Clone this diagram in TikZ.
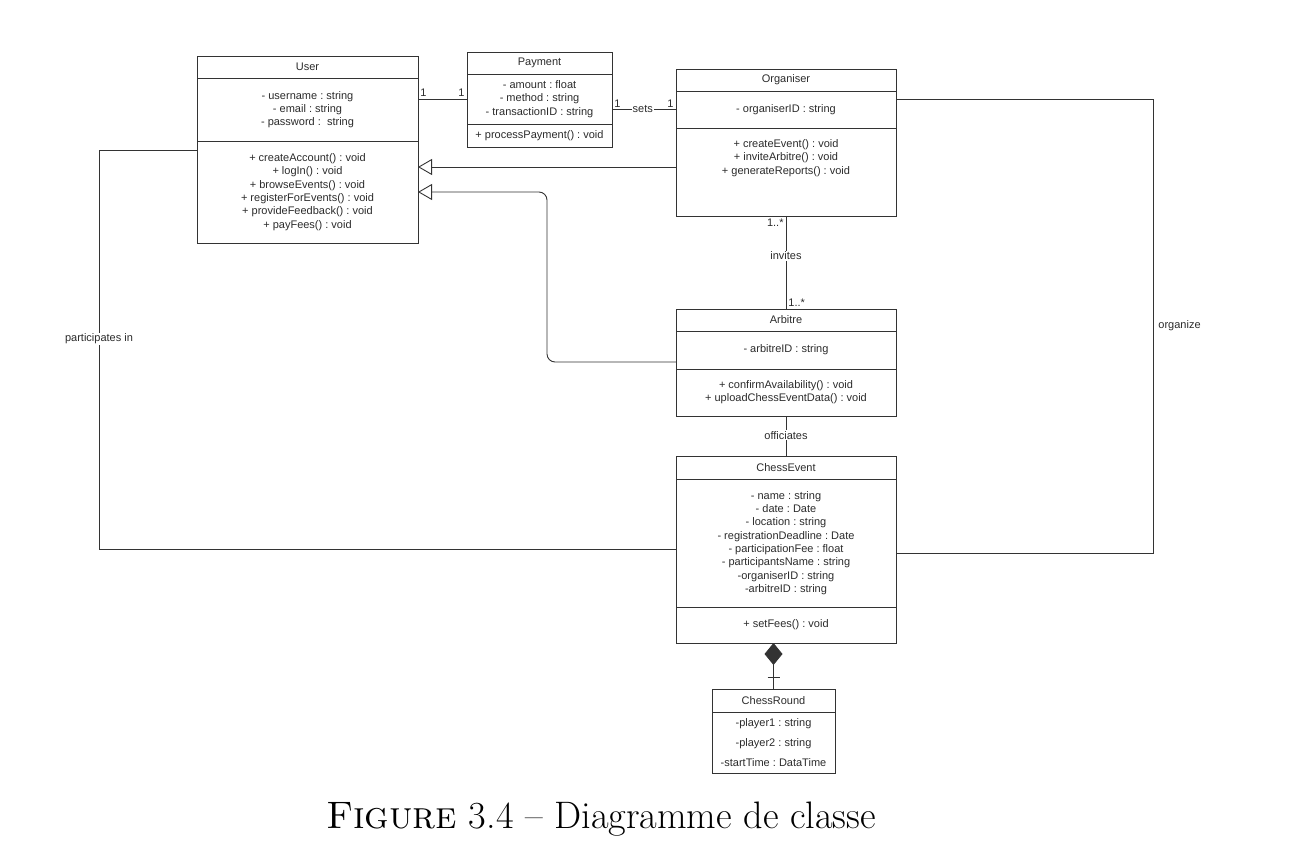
\documentclass[tikz,border=0pt]{standalone}
\usepackage{fontspec}
\usetikzlibrary{positioning,arrows.meta}
\newfontfamily\umlfont{Liberation Sans}
\definecolor{umlline}{HTML}{333333}
\definecolor{umlink}{HTML}{2B2B2B}
\frenchspacing

\tikzset{
  cpart/.style 2 args={draw=umlline, line width=0.9pt, text=umlink,
    font=\umlfont\fontsize{11}{13.3}\selectfont, align=center,
    inner sep=0pt, outer sep=0pt, minimum width=#1, minimum height=#2},
  assoc/.style={draw=umlline, line width=0.9pt},
  inherit/.style={assoc, -{Triangle[open, length=14pt, width=16pt, fill=white]}},
  compose/.style={assoc, -{Diamond[length=22pt, width=18pt]}},
  lbl/.style={text=umlink, font=\umlfont\fontsize{11}{13.3}\selectfont, inner sep=2pt},
  lblw/.style={lbl, fill=white, inner sep=1pt},
}

\begin{document}
\begin{tikzpicture}[x=1pt, y=-1pt]
  \useasboundingbox (0,0) rectangle (1300,850);

  % User
  \node[cpart={221}{22}, anchor=north west] (user) at (197,56) {User};
  \node[cpart={221}{63}, below=0pt of user] (user-a)
    {- username : string\\ - email : string\\ - password :\ \ string};
  \node[cpart={221}{102}, below=0pt of user-a] (user-m)
    {+ createAccount() : void\\ + logIn() : void\\ + browseEvents() : void\\
     + registerForEvents() : void\\ + provideFeedback() : void\\ + payFees() : void};

  % Payment
  \node[cpart={145}{22}, anchor=north west] (payment) at (467,52) {Payment};
  \node[cpart={145}{50}, below=0pt of payment] (payment-a)
    {- amount : float\\ - method : string\\ - transactionID : string};
  \node[cpart={145}{23}, below=0pt of payment-a] (payment-m)
    {+ processPayment() : void};

  % Organiser
  \node[cpart={220}{22}, anchor=north west] (organiser) at (676,69) {Organiser};
  \node[cpart={220}{37}, below=0pt of organiser] (organiser-a)
    {- organiserID : string};
  \node[cpart={220}{88}, text depth=30pt, below=0pt of organiser-a] (organiser-m)
    {+ createEvent() : void\\ + inviteArbitre() : void\\ + generateReports() : void};

  % Arbitre
  \node[cpart={220}{22}, anchor=north west] (arbitre) at (676,309) {Arbitre};
  \node[cpart={220}{38}, below=0pt of arbitre] (arbitre-a)
    {- arbitreID : string};
  \node[cpart={220}{47}, below=0pt of arbitre-a] (arbitre-m)
    {+ confirmAvailability() : void\\ + uploadChessEventData() : void};

  % ChessEvent
  \node[cpart={220}{23}, anchor=north west] (event) at (676,456) {ChessEvent};
  \node[cpart={220}{128}, below=0pt of event] (event-a)
    {- name : string\\ - date : Date\\ - location : string\\
     - registrationDeadline : Date\\ - participationFee : float\\
     - participantsName : string\\ -organiserID : string\\ -arbitreID : string};
  \node[cpart={220}{36}, below=0pt of event-a] (event-m)
    {+ setFees() : void};

  % ChessRound
  \node[cpart={123}{23}, anchor=north west] (round) at (712,689) {ChessRound};
  \node[cpart={123}{61}, font=\umlfont\fontsize{11}{20}\selectfont,
    below=0pt of round] (round-a)
    {-player1 : string\\ -player2 : string\\ -startTime : DataTime};

  % helper points
  \coordinate (bend) at (547,0);
  \coordinate (pleft) at (99,150);
  \coordinate (ocorner) at (1153,553);

  % associations
  \draw[assoc] (user-a.east |- payment-a.west) -- (payment-a.west)
    node[lbl, pos=0, anchor=south west] {1}
    node[lbl, pos=1, anchor=south east] {1};
  \draw[assoc] (payment-a.east |- organiser-a.west) -- (organiser-a.west)
    node[lbl, pos=0, anchor=south west] {1}
    node[lbl, pos=1, anchor=south east] {1}
    node[lblw, pos=0.48] {sets};
  \draw[assoc] (organiser-m.south) -- (arbitre.north)
    node[lbl, pos=0, anchor=north east] {1..*}
    node[lblw, pos=0.43] {invites}
    node[lbl, pos=1, anchor=south west] {1..*};
  \draw[assoc] (arbitre-m.south) -- (event.north)
    node[lblw, pos=0.48] {officiates};
  \draw[assoc] ([yshift=10.5pt]organiser-a.east) -| (ocorner)
    node[lbl, pos=0.75, anchor=west, inner sep=5pt] {organize}
    -- (ocorner -| event-a.east);
  \draw[assoc] ([yshift=-6pt]event-a.west) -| (pleft)
    node[lblw, pos=0.763] {participates in}
    -- (pleft -| user-m.west);

  % generalisations
  \draw[inherit] ([yshift=5pt]organiser-m.west) -- ([yshift=5pt]organiser-m.west -| user-m.east);
  \draw[inherit, rounded corners=8pt] ([yshift=-12pt]arbitre-a.west)
    -| (bend |- user-m.east) -- (user-m.east);

  % composition
  \draw[compose] (round.north) -- coordinate[pos=0.26] (bar) (round.north |- event-m.south);
  \draw[assoc] ([xshift=-6pt]bar) -- ([xshift=6pt]bar);

  % caption
  \node[anchor=base, font=\fontsize{38.3}{44}\selectfont] (caption) at (601,828)
    {\textsc{Figure} 3.4 -- Diagramme de classe};
\end{tikzpicture}
\end{document}
